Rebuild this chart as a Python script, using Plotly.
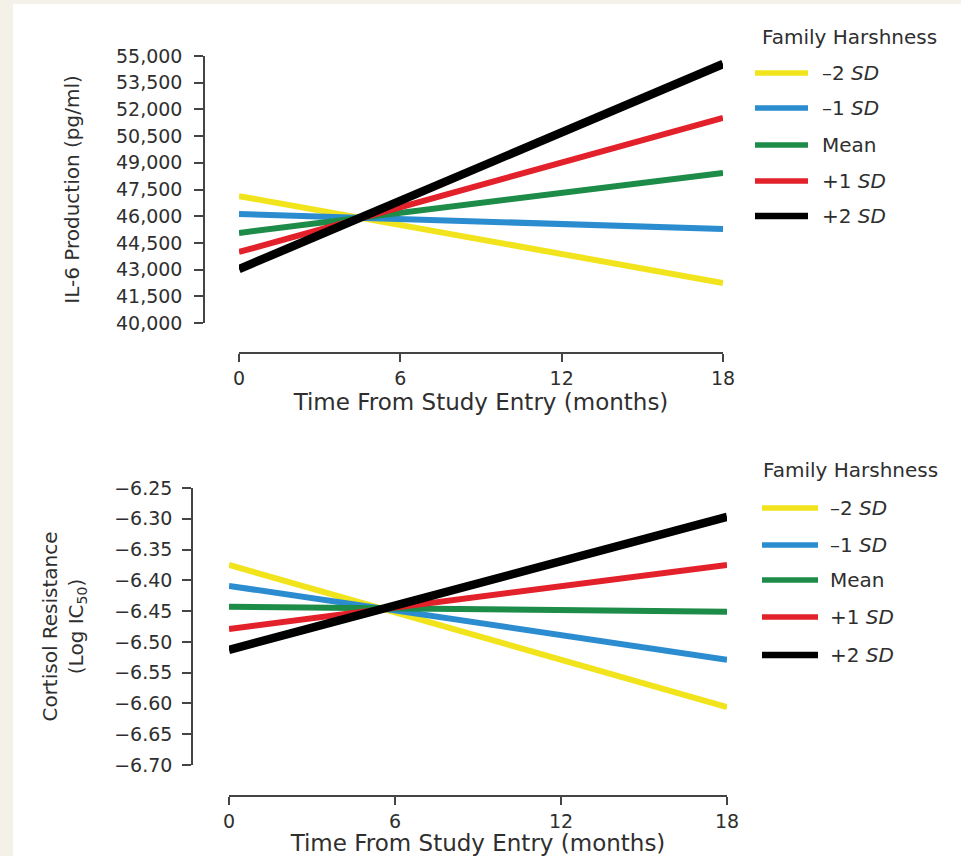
import plotly.graph_objects as go

W, H = 961, 856

# ---------------- data ----------------
months = [0, 18]
series_names = ["\u20132 <i>SD</i>", "\u20131 <i>SD</i>", "Mean", "+1 <i>SD</i>", "+2 <i>SD</i>"]
series_colors = ["#f2e41c", "#2b8dd0", "#1c8c48", "#e3212a", "#000000"]
series_widths = [6, 6, 6, 6, 8.5]

il6_minus2 = [47130, 42250]
il6_minus1 = [46120, 45280]
il6_mean = [45060, 48430]
il6_plus1 = [43990, 51520]
il6_plus2 = [43030, 54550]
il6_series = [il6_minus2, il6_minus1, il6_mean, il6_plus1, il6_plus2]

cort_minus2 = [-6.375, -6.606]
cort_minus1 = [-6.409, -6.529]
cort_mean = [-6.443, -6.451]
cort_plus1 = [-6.479, -6.375]
cort_plus2 = [-6.513, -6.297]
cort_series = [cort_minus2, cort_minus1, cort_mean, cort_plus1, cort_plus2]

x_ticks = [0, 6, 12, 18]
il6_ticks = [40000, 41500, 43000, 44500, 46000, 47500, 49000, 50500, 52000, 53500, 55000]
cort_ticks = [-6.70, -6.65, -6.60, -6.55, -6.50, -6.45, -6.40, -6.35, -6.30, -6.25]

legend_title = "Family Harshness"
x_title = "Time From Study Entry (months)"
il6_title = "IL-6 Production (pg/ml)"
cort_title = "Cortisol Resistance<br>(Log IC<sub>50</sub>)"

# ---------------- helpers ----------------
def px(x):
    return x / W

def py(y):
    return 1 - y / H

FONT = "DejaVu Sans"
TXT = "#2f2f2f"
AX = "#444444"

fig = go.Figure()

for name, col, lw, vals in zip(series_names, series_colors, series_widths, il6_series):
    fig.add_trace(go.Scatter(x=months, y=vals, mode="lines", name=name,
                             line=dict(color=col, width=lw), xaxis="x", yaxis="y",
                             showlegend=False))
for name, col, lw, vals in zip(series_names, series_colors, series_widths, cort_series):
    fig.add_trace(go.Scatter(x=months, y=vals, mode="lines", name=name,
                             line=dict(color=col, width=lw), xaxis="x2", yaxis="y2",
                             showlegend=False))

axis_common = dict(showline=True, linecolor=AX, linewidth=1.5, ticks="outside",
                   tickcolor=AX, tickwidth=1.5, showgrid=False, zeroline=False,
                   automargin=False,
                   tickfont=dict(family=FONT, size=19, color=TXT))
xtitle_font = dict(family=FONT, size=23, color=TXT)
ytitle_font = dict(family=FONT, size=20, color=TXT)

fig.update_layout(
    width=W, height=H,
    margin=dict(l=0, r=0, t=0, b=0, pad=0, autoexpand=False),
    paper_bgcolor="#f3f1e8",
    plot_bgcolor="rgba(0,0,0,0)",
    showlegend=False,
    xaxis=dict(domain=[px(239), px(723)], anchor="free", position=py(353),
               range=[0, 18], tickvals=x_ticks, ticklen=8,
               title=dict(text=x_title, standoff=3, font=xtitle_font), **axis_common),
    yaxis=dict(domain=[py(323), py(56)], anchor="free", position=px(204),
               range=[40000, 55000], tickvals=il6_ticks, tickformat=",d", ticklen=9,
               ticklabelstandoff=8,
               title=dict(text=il6_title, standoff=30, font=ytitle_font), **axis_common),
    xaxis2=dict(domain=[px(229), px(727)], anchor="free", position=py(796),
                range=[0, 18], tickvals=x_ticks, ticklen=8,
                title=dict(text=x_title, standoff=0, font=xtitle_font), **axis_common),
    yaxis2=dict(domain=[py(765), py(488)], anchor="free", position=px(192),
                range=[-6.70, -6.25], tickvals=cort_ticks, tickformat=".2f", ticklen=9,
                ticklabelstandoff=6,
                title=dict(text=cort_title, standoff=24, font=ytitle_font), **axis_common),
)

shapes = [dict(type="rect", xref="paper", yref="paper", x0=px(13), x1=1.0,
               y0=0, y1=py(4), fillcolor="white", line=dict(width=0), layer="below")]
annotations = []

# legends (drawn as keys beside each panel)
legend_specs = [
    dict(title_y=37, title_x=760, rows=[73, 108, 145, 181, 216], x0=755, x1=808, tx=820),
    dict(title_y=470, title_x=761, rows=[508, 545, 580, 617, 655], x0=762, x1=818, tx=828),
]
for spec in legend_specs:
    annotations.append(dict(text=legend_title, x=px(spec["title_x"]), y=py(spec["title_y"]),
                            xref="paper", yref="paper", xanchor="left", yanchor="middle",
                            showarrow=False, font=dict(family=FONT, size=20, color=TXT)))
    for name, col, lw, ry in zip(series_names, series_colors, series_widths, spec["rows"]):
        shapes.append(dict(type="line", xref="paper", yref="paper",
                           x0=px(spec["x0"]), x1=px(spec["x1"]), y0=py(ry), y1=py(ry),
                           line=dict(color=col, width=min(lw, 7) - 0.5)))
        annotations.append(dict(text=name, x=px(spec["tx"]), y=py(ry),
                                xref="paper", yref="paper", xanchor="left", yanchor="middle",
                                showarrow=False, font=dict(family=FONT, size=20, color=TXT)))

fig.update_layout(shapes=shapes, annotations=annotations)
fig.write_html("out.html")
